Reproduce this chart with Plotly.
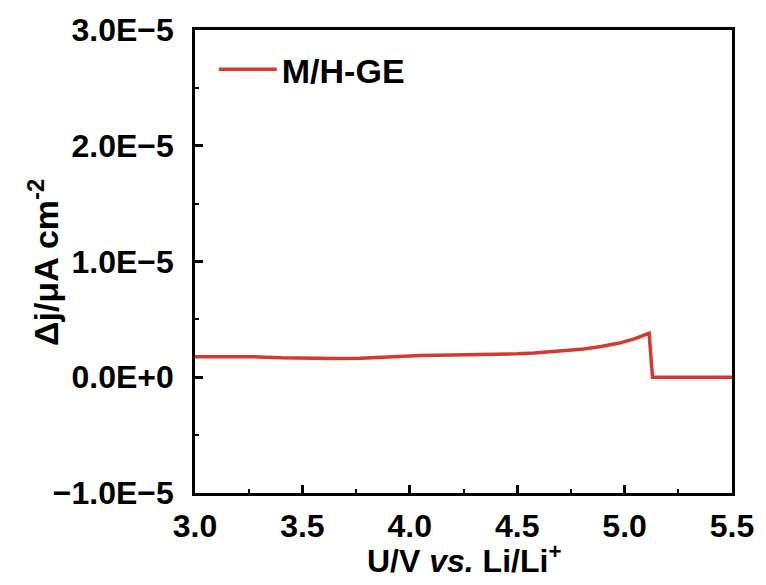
import plotly.graph_objects as go

# Potential (V vs. Li/Li+) and current difference (A cm^-2) for M/H-GE
voltage = [3.0, 3.2, 3.3, 3.4, 3.5, 3.65, 3.77, 3.85, 3.93, 4.05, 4.2, 4.35,
           4.5, 4.58, 4.66, 4.74, 4.81, 4.89, 4.97, 5.045, 5.08, 5.114,
           5.13, 5.2, 5.3, 5.4, 5.5]
delta_j = [1.78e-6, 1.78e-6, 1.76e-6, 1.68e-6, 1.64e-6, 1.63e-6, 1.65e-6, 1.72e-6,
           1.81e-6, 1.88e-6, 1.93e-6, 1.96e-6, 2.02e-6, 2.10e-6, 2.20e-6, 2.32e-6,
           2.45e-6, 2.65e-6, 2.93e-6, 3.31e-6, 3.52e-6, 3.80e-6,
           0.0, 0.0, 0.0, 0.0, 0.0]
series_name = "M/H-GE"
x_title = "U/V <i>vs.</i> Li/Li<sup>+</sup>"
y_title = "\u0394j/\u03bcA cm<sup>-2</sup>"

x_ticks = [3.0, 3.5, 4.0, 4.5, 5.0, 5.5]
x_ticktext = ["3.0", "3.5", "4.0", "4.5", "5.0", "5.5"]
y_ticks = [-1e-5, 0.0, 1e-5, 2e-5, 3e-5]
y_ticktext = ["\u22121.0E\u22125", "0.0E+0", "1.0E\u22125", "2.0E\u22125", "3.0E\u22125"]

FONT = "Liberation Sans, Arial, sans-serif"
RED = "#d6392d"

fig = go.Figure()
fig.add_trace(go.Scatter(
    x=voltage, y=delta_j, mode="lines", name=series_name,
    line=dict(color=RED, width=3.5),
))

axis_common = dict(
    showline=True, linecolor="black", linewidth=2.5, mirror=True,
    ticks="inside", ticklen=8, tickwidth=2.5, tickcolor="black",
    showgrid=False, zeroline=False,
    tickfont=dict(family=FONT, size=32, color="black", weight="bold"),
)

fig.update_xaxes(
    range=[3.0, 5.5], tickvals=x_ticks, ticktext=x_ticktext,
    minor=dict(dtick=0.25, ticks="inside", ticklen=4, tickwidth=2, tickcolor="black"),
    ticklabelstandoff=3,
    **axis_common,
)
fig.update_yaxes(
    range=[-1e-5, 3e-5], tickvals=y_ticks, ticktext=y_ticktext,
    minor=dict(dtick=0.5e-5, tick0=0, ticks="inside", ticklen=4, tickwidth=2, tickcolor="black"),
    ticklabelstandoff=12,
    **axis_common,
)

# Axis titles placed as paper-anchored annotations for precise positioning
fig.add_annotation(
    text=x_title, xref="paper", yref="paper", x=0.5, y=-0.143,
    xanchor="center", yanchor="middle", showarrow=False,
    font=dict(family=FONT, size=32, color="black", weight="bold"),
)
fig.add_annotation(
    text=y_title, xref="paper", yref="paper", x=-0.281, y=0.497,
    xanchor="center", yanchor="middle", showarrow=False, textangle=-90,
    font=dict(family=FONT, size=34, color="black", weight="bold"),
)

fig.update_layout(
    width=766, height=585,
    margin=dict(l=195, r=31, t=28, b=92),
    paper_bgcolor="white", plot_bgcolor="white",
    showlegend=True,
    legend=dict(
        x=0.035, y=0.977, xanchor="left", yanchor="top",
        itemwidth=58,
        bgcolor="rgba(0,0,0,0)", borderwidth=0,
        font=dict(family=FONT, size=34, color="black", weight="bold"),
    ),
)

fig.write_html("out.html")
